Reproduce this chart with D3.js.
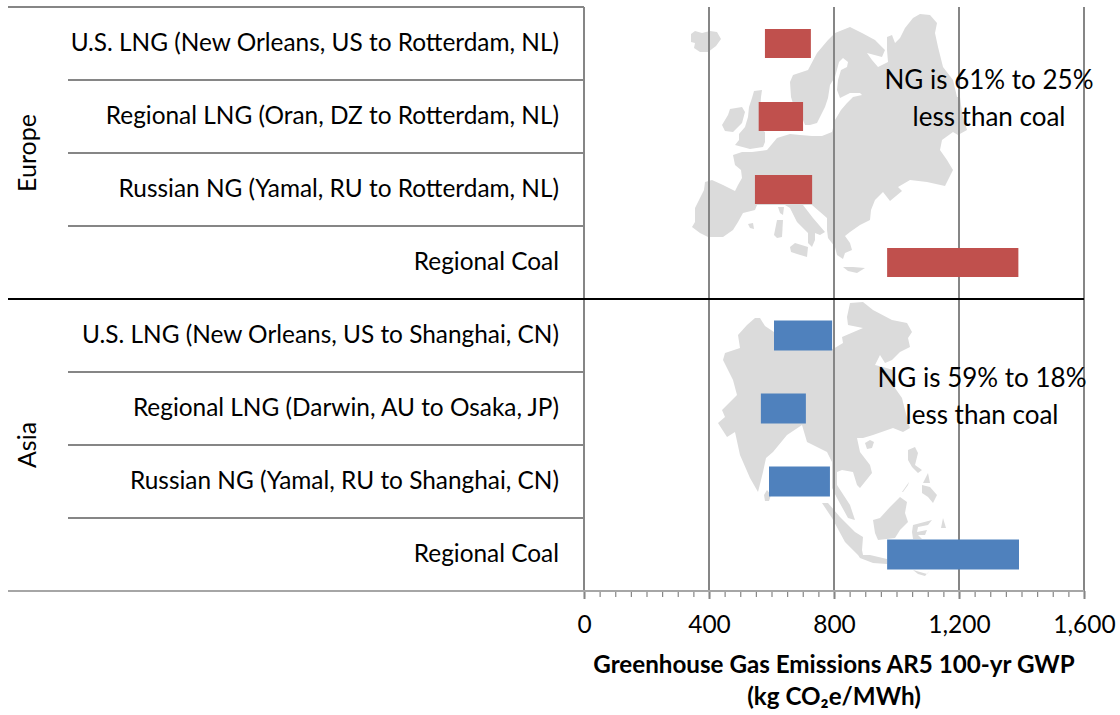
<!DOCTYPE html>
<html><head><meta charset="utf-8">
<script src="https://cdn.jsdelivr.net/npm/d3@7"></script>
<style>html,body{margin:0;padding:0;background:#fff}svg{display:block}text{font-family:Lato,"Noto Sans",sans-serif;fill:#000}</style>
</head><body><div id="chart"></div>
<script>
const europeCategories=["U.S. LNG (New Orleans, US to Rotterdam, NL)","Regional LNG (Oran, DZ to Rotterdam, NL)","Russian NG (Yamal, RU to Rotterdam, NL)","Regional Coal"];
const europeLow=[579,559,547,970];
const europeHigh=[726,701,730,1390];
const asiaCategories=["U.S. LNG (New Orleans, US to Shanghai, CN)","Regional LNG (Darwin, AU to Osaka, JP)","Russian NG (Yamal, RU to Shanghai, CN)","Regional Coal"];
const asiaLow=[608,566,592,970];
const asiaHigh=[794,710,787,1392];
const groupNames=["Europe","Asia"];
const axisTicks=[0,400,800,1200,1600];
const minorTicks=d3.range(0,1601,50);
const europeNote=["NG is 61% to 25%","less than coal"];
const asiaNote=["NG is 59% to 18%","less than coal"];
const axisTitle=["Greenhouse Gas Emissions AR5 100-yr GWP","(kg CO₂e/MWh)"];

// Background silhouettes (decorative artwork traced in page pixels)
const europeShapes=[
[[691,34],[695,31],[702,33],[710,31],[717,32],[721,39],[716,46],[708,52],[700,52],[694,48],[695,43],[691,42]],
[[722,125],[728,115],[730,109],[742,107],[745,112],[742,123],[733,132],[725,131]],
[[754,91],[762,90],[761,97],[760,110],[762,130],[765,132],[765,142],[763,147],[750,149],[735,145],[739,140],[739,134],[745,127],[748,117],[749,107],[752,98]],
[[692,227],[695,222],[695,208],[700,198],[704,190],[705,182],[712,180],[723,185],[735,191],[738,185],[742,178],[741,170],[735,165],[733,155],[742,152],[752,152],[767,150],[777,138],[790,134],[800,135],[812,136],[822,136],[832,132],[835,120],[841,110],[847,103],[853,97],[862,95],[860,93],[850,93],[840,98],[837,90],[838,80],[841,70],[847,67],[848,62],[843,58],[839,62],[835,77],[830,85],[828,98],[825,107],[817,123],[810,125],[805,125],[803,120],[795,110],[791,97],[790,82],[793,75],[808,70],[817,53],[828,40],[835,33],[850,27],[862,33],[875,40],[885,50],[882,57],[867,53],[872,60],[878,67],[888,62],[887,50],[887,37],[892,35],[895,43],[900,38],[905,28],[913,18],[920,14],[930,15],[937,23],[935,33],[938,47],[943,67],[953,80],[957,97],[960,97],[962,113],[967,130],[958,135],[953,132],[942,140],[940,150],[947,160],[953,170],[945,186],[927,182],[910,180],[898,187],[902,191],[890,201],[883,192],[875,200],[871,210],[870,220],[860,225],[850,232],[845,236],[850,243],[852,250],[845,253],[843,259],[837,255],[835,247],[828,238],[827,230],[827,218],[812,205],[803,205],[813,218],[825,232],[820,235],[815,233],[815,240],[812,247],[808,243],[808,233],[797,222],[790,208],[785,205],[757,205],[755,210],[743,213],[738,222],[733,230],[723,237],[708,237],[700,233]],
[[778,207],[784,207],[783,215],[780,213]],
[[777,220],[783,220],[782,237],[777,238],[774,235]],
[[748,224],[753,223],[754,229],[750,228]],
[[790,247],[795,243],[808,247],[807,257],[797,254],[791,252]],
[[843,267],[853,267],[865,268],[857,273],[848,271]]
];
const asiaShapes=[
[[755,318],[760,318],[765,326],[774,332],[815,345],[833,349],[843,343],[842,337],[863,328],[848,325],[847,317],[850,303],[863,302],[873,310],[892,320],[907,323],[912,332],[908,338],[910,347],[900,352],[892,360],[885,363],[880,355],[875,365],[883,367],[893,370],[895,378],[895,388],[902,398],[905,410],[910,428],[903,432],[893,428],[873,435],[863,438],[857,438],[860,452],[870,465],[872,473],[860,488],[857,485],[853,472],[842,470],[837,472],[837,485],[850,505],[855,520],[848,518],[837,498],[832,488],[832,462],[827,452],[807,442],[802,425],[787,435],[773,452],[766,458],[763,472],[758,492],[750,478],[740,455],[735,432],[727,437],[718,423],[725,417],[722,410],[737,395],[733,380],[723,360],[725,353],[740,348],[738,335],[747,325]],
[[822,503],[828,503],[840,517],[855,532],[863,537],[862,550],[863,555],[858,555],[845,542],[832,518]],
[[858,555],[870,555],[887,559],[887,564],[873,563],[860,558]],
[[873,520],[880,518],[890,507],[900,497],[907,502],[905,513],[908,522],[900,530],[895,538],[878,540],[875,533]],
[[913,525],[932,520],[928,525],[918,527],[917,532],[927,530],[925,535],[918,535],[922,539],[913,539],[912,532]],
[[908,450],[915,447],[918,453],[915,465],[922,470],[918,473],[912,467],[908,460]],
[[922,485],[930,487],[937,495],[933,503],[928,497],[922,493]],
[[902,492],[909,482],[908,485],[903,492]],
[[928,473],[930,483],[923,483]],
[[865,443],[870,440],[874,442],[872,448],[867,449]],
[[764,495],[767,490],[771,495],[769,501],[765,501]],
[[943,518],[946,528],[941,528]],
[[913,570],[927,574],[930,570],[925,576],[918,574]]
];

const width=1120,height=715;
const gridGrey="#868686";
const svg=d3.select("#chart").append("svg").attr("width",width).attr("height",height);
const x=d3.scaleLinear().domain([0,1600]).range([584,1084]);
const rows=d3.range(8);
const y=d3.scaleBand().domain(rows).range([7,591]);
const line=d3.line().curve(d3.curveLinearClosed);

svg.append("g").selectAll("path").data(europeShapes.concat(asiaShapes)).join("path")
  .attr("d",line).attr("fill","#dbdbdb");

// minor and major ticks with gridlines
const axisY=y.range()[1];
const minor=d3.axisBottom(x).tickValues(minorTicks).tickSize(6).tickFormat("");
const gm=svg.append("g").attr("transform",`translate(0,${axisY})`).call(minor);
gm.select(".domain").remove();
gm.selectAll("line").attr("stroke",gridGrey).attr("stroke-width",1.2);
const major=d3.axisBottom(x).tickValues(axisTicks).tickSize(8).tickFormat(d3.format(","));
const ga=svg.append("g").attr("transform",`translate(0,${axisY})`).call(major);
ga.select(".domain").remove();
ga.selectAll("line").attr("stroke",gridGrey).attr("stroke-width",2);
ga.selectAll("text").attr("font-size",24.5).attr("fill","#000").attr("dy",null).attr("y",41.5);
svg.append("g").selectAll("line").data(axisTicks).join("line")
  .attr("x1",d=>x(d)).attr("x2",d=>x(d)).attr("y1",7).attr("y2",axisY)
  .attr("stroke",gridGrey).attr("stroke-width",2);

// row rules
const rules=svg.append("g").attr("stroke",gridGrey).attr("stroke-width",2);
rows.forEach(i=>{
  if(i===4)return;
  const yy=y(i);
  rules.append("line").attr("x1",i===0?8:68).attr("x2",584).attr("y1",yy).attr("y2",yy);
});
rules.append("line").attr("x1",8).attr("x2",1084).attr("y1",axisY).attr("y2",axisY).attr("stroke","#a6a6a6");

// bars
function bars(low,high,offset,color,h){
  svg.append("g").selectAll("rect").data(low).join("rect")
    .attr("x",d=>x(d))
    .attr("width",(d,i)=>x(high[i])-x(d))
    .attr("y",(d,i)=>y(i+offset)+y.bandwidth()/2-h/2)
    .attr("height",h).attr("fill",color);
}
bars(europeLow,europeHigh,0,"#c0504d",29);
bars(asiaLow,asiaHigh,4,"#4f81bd",30);

// group separator
svg.append("line").attr("x1",8).attr("x2",1084).attr("y1",y(4)).attr("y2",y(4)).attr("stroke","#000").attr("stroke-width",2);

// category labels
const labels=europeCategories.concat(asiaCategories);
svg.append("g").selectAll("text").data(labels).join("text")
  .attr("x",559).attr("y",(d,i)=>y(i)+y.bandwidth()/2+7.5)
  .attr("text-anchor","end").attr("font-size",24.4).text(d=>d);

// group labels
groupNames.forEach((g,k)=>{
  const cy=y(k*4)+y.bandwidth()*2;
  svg.append("text").attr("transform",`translate(36,${cy}) rotate(-90)`)
    .attr("text-anchor","middle").attr("font-size",25).text(g);
});

// annotations
function note(lines,cx,base){
  svg.append("g").selectAll("text").data(lines).join("text")
    .attr("x",cx).attr("y",(d,i)=>base+i*36.5)
    .attr("text-anchor","middle").attr("font-size",26).text(d=>d);
}
note(europeNote,989,89);
note(asiaNote,982,387);

// axis title
svg.append("g").selectAll("text").data(axisTitle).join("text")
  .attr("x",834).attr("y",(d,i)=>673+i*32)
  .attr("text-anchor","middle").attr("font-size",24.2).attr("font-weight",700).text(d=>d);
</script></body></html>
